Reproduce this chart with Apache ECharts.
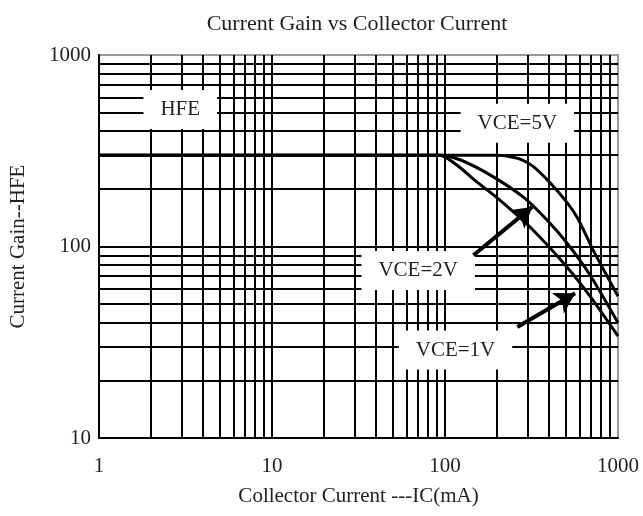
<!DOCTYPE html>
<html>
<head>
<meta charset="utf-8">
<script src="https://cdn.jsdelivr.net/npm/echarts@6/dist/echarts.min.js"></script>
<style>
html,body{margin:0;padding:0;background:#fff;}
#chart{width:643px;height:516px;}
</style>
</head>
<body>
<div id="chart"></div>
<script>
// ---- data ----
const titleText = 'Current Gain vs Collector Current';
const xName = 'Collector Current ---IC(mA)';
const yName = 'Current Gain--HFE';
const xMinorLines = [2,3,4,5,6,7,8,9,20,30,40,50,60,70,80,90,200,300,400,500,600,700,800,900];
const yMinorLines = [20,30,40,50,60,70,80,90,200,300,400,500,600,700,800,900];
const vce5 = [[1,300],[200,300],[223,298],[272,286],[323,262],[405,215],[509,169],[578,143],[662,112],[717,96],[1000,55]];
const vce2 = [[1,300],[94,300],[123,283],[183,236],[284,181],[390,137],[508,104],[689,71],[1000,40]];
const vce1 = [[1,300],[92,300],[101,292],[123,257],[150,220],[201,179],[311,126],[508,78],[689,55],[1000,34]];
const annoLabels = [
  {text:'HFE', at:[2.95,520]},
  {text:'VCE=5V', at:[262,440]},
  {text:'VCE=2V', at:[70,75]},
  {text:'VCE=1V', at:[115,28.8]}
];
const arrows = [
  {from:[146,90], to:[319,161]},
  {from:[262,38], to:[565,57]}
];

const FONT = '"Liberation Serif","DejaVu Serif",serif';
const chart = echarts.init(document.getElementById('chart'), null, {renderer:'canvas'});

const curveStyle = {color:'#000', width:3};
function curve(name, data){
  return {name, type:'line', data, smooth:0.25, showSymbol:false, symbol:'none',
    lineStyle:curveStyle, z:5, silent:true, animation:false};
}

const option = {
  animation:false,
  backgroundColor:'#fff',
  title:{text:titleText, left:352, textAlign:'center', top:8,
    textStyle:{fontFamily:FONT, fontSize:22, fontWeight:'normal', color:'#222'}},
  grid:{left:97, right:25, top:55, bottom:78, show:true, borderColor:'#999', borderWidth:2, backgroundColor:'transparent'},
  xAxis:{type:'log', logBase:10, min:1, max:1000,
    name:xName, nameLocation:'middle', nameGap:48,
    nameTextStyle:{fontFamily:FONT, fontSize:21, color:'#222'},
    axisLine:{show:true, lineStyle:{color:'#000', width:2}},
    axisTick:{show:false},
    axisLabel:{fontFamily:FONT, fontSize:21, color:'#222', margin:18, formatter:v=>String(v)},
    splitLine:{show:true, showMaxLine:false, lineStyle:{color:'#000', width:2}}},
  yAxis:{type:'log', logBase:10, min:10, max:1000,
    name:yName, nameLocation:'middle', nameGap:70, nameRotate:90,
    nameTextStyle:{fontFamily:FONT, fontSize:21, color:'#222'},
    axisLine:{show:true, lineStyle:{color:'#000', width:2}},
    axisTick:{show:false},
    axisLabel:{fontFamily:FONT, fontSize:21, color:'#222', margin:8, formatter:v=>String(v)},
    splitLine:{show:true, showMaxLine:false, lineStyle:{color:'#000', width:2}}},
  series:[
    {name:'grid', type:'line', data:[], silent:true, z:1,
      markLine:{silent:true, z:1, symbol:['none','none'], label:{show:false}, animation:false,
        lineStyle:{color:'#000', width:2, type:'solid'},
        data: xMinorLines.map(v=>({xAxis:v})).concat(yMinorLines.map(v=>({yAxis:v})))}},
    {name:'labels', type:'scatter', data:annoLabels.map(a=>({value:a.at, name:a.text})),
      symbolSize:0, z:8, silent:true, itemStyle:{opacity:1},
      label:{show:true, position:'inside', formatter:p=>p.name, opacity:1,
        fontFamily:FONT, fontSize:21, color:'#222', backgroundColor:'#fff',
        padding:[9,17,9,17]}},
    curve('VCE=5V', vce5),
    curve('VCE=2V', vce2),
    curve('VCE=1V', vce1),
    {name:'arrows', type:'line', data:[], silent:true, z:10,
      markLine:{silent:true, z:10, symbol:['none','arrow'], symbolSize:[18,20], label:{show:false}, animation:false,
        lineStyle:{color:'#000', width:4, type:'solid'},
        data: arrows.map(a=>[{coord:a.from},{coord:a.to}])}}
  ]
};
chart.setOption(option);
</script>
</body>
</html>
